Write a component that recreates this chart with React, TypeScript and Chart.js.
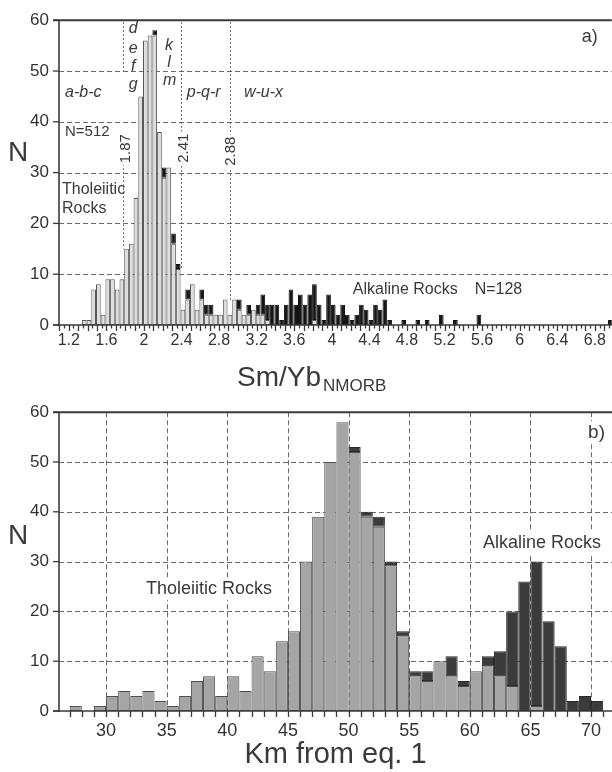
import React, { useEffect, useRef } from 'react';
import { Chart, registerables } from 'chart.js';

Chart.register(...registerables);

const FONT = '"Liberation Sans", Arial, Helvetica, sans-serif';
const TEXT = '#3a3a3a';
const AXIS = '#3a3a3a';
const GRID = '#6a6a6a';

// ---------------- Panel a : Sm/Yb NMORB histogram (bins of 0.05) ----------------
const smybFirstBinCenter = 1.365;
const smybBinWidth = 0.05;
const smybTholeiitic = [
  1, 1, 7, 8, 2, 9, 9, 7, 9, 15,
  16, 25, 45, 56, 57, 57, 38, 29, 31, 16,
  11, 3, 5, 8, 3, 5, 2, 2, 2, 2,
  5, 2, 5, 3, 2, 2, 3, 2, 2, 1,
  0, 0, 0, 0, 0, 0, 0, 0, 0, 1,
  0, 0, 0, 0, 0, 0, 0, 0, 0, 0,
  0, 0, 0, 0, 0, 0, 0, 0, 0, 0,
  0, 0, 0, 0, 0, 0, 0, 0, 0, 0,
  0, 0, 0, 0, 0, 0, 0, 0, 0, 0,
  0, 0, 0, 0, 0, 0, 0, 0, 0, 0,
  0, 0, 0, 0, 0, 0, 0, 0, 0, 0,
  0, 0, 0,
];
const smybAlkaline = [
  0, 0, 0, 0, 0, 0, 0, 0, 0, 0,
  0, 0, 0, 0, 0, 1, 0, 2, 0, 2,
  1, 0, 2, 0, 0, 2, 2, 2, 0, 0,
  0, 0, 0, 2, 0, 2, 0, 2, 4, 3,
  4, 4, 1, 4, 7, 4, 6, 4, 6, 7,
  4, 1, 6, 4, 2, 4, 2, 1, 2, 4,
  3, 1, 4, 3, 5, 1, 0, 0, 1, 0,
  0, 1, 0, 1, 0, 0, 2, 0, 0, 1,
  0, 0, 0, 0, 2, 0, 0, 0, 0, 0,
  0, 0, 0, 0, 0, 0, 0, 0, 0, 0,
  0, 0, 0, 0, 0, 0, 0, 0, 0, 0,
  0, 0, 1,
];
const smybBins = smybTholeiitic.map((_, i) => Math.round((smybFirstBinCenter + i * smybBinWidth) * 1000) / 1000);
const smybTickLabels = [1.2, 1.6, 2, 2.4, 2.8, 3.2, 3.6, 4, 4.4, 4.8, 5.2, 5.6, 6, 6.4, 6.8];
const smybRange = { min: 1.096, max: 6.98 };
const smybDivisions = [
  { label: '1.87', at: 1.78, labelAt: 1.81, labelY: 34.7, spans: [[59.6, 50], [32.4, 15]] },
  { label: '2.41', at: 2.39, labelAt: 2.42, labelY: 34.8, spans: [[59.6, 11]] },
  { label: '2.88', at: 2.915, labelAt: 2.926, labelY: 34.2, spans: [[59.6, 5]] },
];
const smybLabels = [
  { text: 'a-b-c', x: 1.16, y: 45.7, size: 16, italic: true, align: 'left' },
  { text: 'N=512', x: 1.16, y: 38.0, size: 15, align: 'left' },
  { text: 'd', x: 1.885, y: 58.3, size: 16, italic: true, align: 'center' },
  { text: 'e', x: 1.885, y: 54.5, size: 16, italic: true, align: 'center' },
  { text: 'f', x: 1.885, y: 50.9, size: 16, italic: true, align: 'center' },
  { text: 'g', x: 1.885, y: 47.3, size: 16, italic: true, align: 'center' },
  { text: 'k', x: 2.268, y: 55.0, size: 16, italic: true, align: 'center' },
  { text: 'l', x: 2.268, y: 51.6, size: 16, italic: true, align: 'center' },
  { text: 'm', x: 2.275, y: 48.1, size: 16, italic: true, align: 'center' },
  { text: 'p-q-r', x: 2.457, y: 45.7, size: 16, italic: true, align: 'left' },
  { text: 'w-u-x', x: 3.064, y: 45.7, size: 16, italic: true, align: 'left' },
  { text: 'Tholeiitic', x: 1.128, y: 26.6, size: 16, align: 'left' },
  { text: 'Rocks', x: 1.128, y: 22.9, size: 16, align: 'left' },
  { text: 'Alkaline Rocks', x: 4.223, y: 6.95, size: 16, align: 'left' },
  { text: 'N=128', x: 5.52, y: 6.95, size: 16, align: 'left' },
  { text: 'a)', x: 6.83, y: 56.6, size: 18, align: 'right' },
];

// ---------------- Panel b : Km from eq. 1 histogram (bins of 1) ----------------
const kmFirstBinCenter = 27.5;
const kmTholeiitic = [
  1, 0, 1, 3, 4, 3, 4, 2, 1, 3,
  6, 7, 3, 7, 4, 11, 8, 14, 16, 30,
  39, 50, 58, 52, 39, 37, 29, 15, 7, 6,
  10, 7, 5, 8, 9, 7, 5, 0, 1, 0,
  0, 0, 0, 0,
];
const kmAlkaline = [
  0, 0, 0, 0, 0, 0, 0, 0, 0, 0,
  0, 0, 0, 0, 0, 0, 0, 0, 0, 0,
  0, 0, 0, 1, 1, 2, 1, 1, 1, 2,
  0, 4, 1, 0, 2, 5, 15, 26, 29, 18,
  13, 2, 3, 2,
];
const kmBins = kmTholeiitic.map((_, i) => kmFirstBinCenter + i);
const kmTickLabels = [30, 35, 40, 45, 50, 55, 60, 65, 70];
const kmRange = { min: 26.12, max: 71.73 };
const kmLabels = [
  { text: 'b)', x: 71.15, y: 55.9, size: 19, align: 'right', bg: true },
  { text: 'Alkaline Rocks', x: 61.09, y: 33.8, size: 18, align: 'left', bg: true },
  { text: 'Tholeiitic Rocks', x: 33.3, y: 24.5, size: 18, align: 'left', bg: true },
];

const yTicks = [0, 10, 20, 30, 40, 50, 60];
const yGrid = [10, 20, 30, 40, 50];

function line(ctx: CanvasRenderingContext2D, x1: number, y1: number, x2: number, y2: number) {
  ctx.beginPath();
  ctx.moveTo(x1, y1);
  ctx.lineTo(x2, y2);
  ctx.stroke();
}

function drawLabel(chart: any, l: any) {
  const ctx: CanvasRenderingContext2D = chart.ctx;
  const px = chart.scales.x.getPixelForValue(l.x);
  const py = chart.scales.y.getPixelForValue(l.y);
  ctx.save();
  ctx.font = `${l.italic ? 'italic ' : ''}${l.size}px ${FONT}`;
  ctx.textBaseline = 'middle';
  ctx.textAlign = (l.align || 'left') as CanvasTextAlign;
  ctx.translate(px, py);
  if (l.rotate) ctx.rotate(-Math.PI / 2);
  if (l.bg) {
    const w = ctx.measureText(l.text).width;
    const x0 = l.align === 'center' ? -w / 2 : l.align === 'right' ? -w : 0;
    ctx.fillStyle = '#ffffff';
    ctx.fillRect(x0 - 2, -l.size * 0.6, w + 4, l.size * 1.2);
  }
  ctx.fillStyle = TEXT;
  ctx.fillText(l.text, 0, 0);
  ctx.restore();
}

function drawGrid(chart: any, vertical: number[]) {
  const ctx: CanvasRenderingContext2D = chart.ctx;
  const { left, right, top, bottom } = chart.chartArea;
  const xs = chart.scales.x;
  const ys = chart.scales.y;
  ctx.save();
  ctx.strokeStyle = GRID;
  ctx.lineWidth = 1;
  ctx.setLineDash([5, 3]);
  for (const v of yGrid) {
    const y = Math.round(ys.getPixelForValue(v)) + 0.5;
    line(ctx, left, y, right, y);
  }
  for (const v of vertical) {
    const x = Math.round(xs.getPixelForValue(v)) + 0.5;
    line(ctx, x, top, x, bottom);
  }
  ctx.restore();
}

function drawFrame(chart: any, xTicks: { v: number; len: number }[]) {
  const ctx: CanvasRenderingContext2D = chart.ctx;
  const { left, right, top, bottom } = chart.chartArea;
  const xs = chart.scales.x;
  const ys = chart.scales.y;
  ctx.save();
  ctx.strokeStyle = AXIS;
  ctx.setLineDash([]);
  ctx.lineWidth = 2;
  line(ctx, left - 6, top, right, top);
  ctx.lineWidth = 1.6;
  line(ctx, left, top, left, bottom + 1);
  line(ctx, left - 6, bottom, right, bottom);
  ctx.lineWidth = 1.3;
  for (const v of yTicks) {
    const y = ys.getPixelForValue(v);
    line(ctx, left - 6, y, left, y);
  }
  for (const t of xTicks) {
    const x = Math.round(xs.getPixelForValue(t.v)) + 0.5;
    line(ctx, x, bottom, x, bottom + t.len);
  }
  ctx.restore();
}

function drawYTitle(chart: any, yValue: number) {
  const ctx: CanvasRenderingContext2D = chart.ctx;
  const { left } = chart.chartArea;
  ctx.save();
  ctx.font = `28px ${FONT}`;
  ctx.fillStyle = TEXT;
  ctx.textAlign = 'center';
  ctx.textBaseline = 'middle';
  ctx.fillText('N', left - 41, chart.scales.y.getPixelForValue(yValue));
  ctx.restore();
}

function makeConfig(p: any) {
  return {
    type: 'bar',
    data: {
      datasets: [
        {
          label: 'Tholeiitic Rocks',
          data: p.bins.map((x: number, i: number) => ({ x, y: p.thol[i] })),
          backgroundColor: p.tholFill,
          borderColor: p.tholBorder,
          borderWidth: 1,
          borderSkipped: false,
          inflateAmount: 0,
          barPercentage: 1,
          categoryPercentage: 1,
        },
        {
          label: 'Alkaline Rocks',
          data: p.bins.map((x: number, i: number) => ({ x, y: p.alk[i] })),
          backgroundColor: p.alkFill,
          borderColor: p.alkBorder,
          borderWidth: 1,
          borderSkipped: false,
          inflateAmount: 0,
          barPercentage: 1,
          categoryPercentage: 1,
        },
      ],
    },
    options: {
      responsive: false,
      animation: false,
      devicePixelRatio: 1,
      layout: { padding: { top: p.padTop, right: 0, bottom: 0, left: 0 } },
      plugins: { legend: { display: false }, tooltip: { enabled: false }, title: { display: false } },
      scales: {
        x: {
          type: 'linear',
          min: p.range.min,
          max: p.range.max,
          stacked: true,
          offset: false,
          grid: { display: false, drawTicks: false },
          border: { display: false },
          afterBuildTicks: (s: any) => {
            s.ticks = p.ticks.map((v: number) => ({ value: v }));
          },
          afterFit: (s: any) => {
            s.height = p.xAxisHeight;
          },
          ticks: {
            autoSkip: false,
            maxRotation: 0,
            minRotation: 0,
            padding: p.xPad,
            color: '#333',
            font: { size: p.xFont, family: FONT },
            callback: (v: number) => String(v),
          },
        },
        y: {
          min: 0,
          max: 60,
          stacked: true,
          grid: { display: false, drawTicks: false },
          border: { display: false },
          afterFit: (s: any) => {
            s.width = 59;
          },
          ticks: {
            stepSize: 10,
            padding: 10,
            color: '#333',
            font: { size: 17, family: FONT },
          },
        },
      },
    },
    plugins: [p.plugin],
  };
}

const smybXTicks = (() => {
  const out: { v: number; len: number }[] = [];
  for (let k = 22; k * 0.05 <= smybRange.max; k++) out.push({ v: k * 0.05, len: k % 2 === 0 ? 6 : 3.5 });
  return out;
})();
const kmXTicks = (() => {
  const out: { v: number; len: number }[] = [];
  for (let k = 27; k <= 71; k++) out.push({ v: k, len: 6 });
  return out;
})();

const pluginA = {
  id: 'panelA',
  beforeDatasetsDraw(chart: any) {
    drawGrid(chart, []);
  },
  afterDatasetsDraw(chart: any) {
    const ctx: CanvasRenderingContext2D = chart.ctx;
    const xs = chart.scales.x;
    const ys = chart.scales.y;
    ctx.save();
    ctx.strokeStyle = '#444';
    ctx.lineWidth = 1;
    ctx.setLineDash([1.5, 2.5]);
    for (const d of smybDivisions) {
      const px = Math.round(xs.getPixelForValue(d.at)) + 0.5;
      for (const [a, b] of d.spans) line(ctx, px, ys.getPixelForValue(a), px, ys.getPixelForValue(b));
    }
    ctx.restore();
    for (const d of smybDivisions) {
      drawLabel(chart, { text: d.label, x: d.labelAt, y: d.labelY, size: 15, align: 'center', rotate: true, bg: true });
    }
    for (const l of smybLabels) drawLabel(chart, l);
    drawFrame(chart, smybXTicks);
    drawYTitle(chart, 33.8);
    const { left, bottom } = chart.chartArea;
    ctx.save();
    ctx.fillStyle = TEXT;
    ctx.textBaseline = 'alphabetic';
    ctx.textAlign = 'left';
    ctx.font = `28px ${FONT}`;
    const main = 'Sm/Yb';
    const x0 = left + 178;
    ctx.fillText(main, x0, bottom + 61);
    const w = ctx.measureText(main).width;
    ctx.font = `17px ${FONT}`;
    ctx.fillText('NMORB', x0 + w + 2, bottom + 66);
    ctx.restore();
  },
};

const pluginB = {
  id: 'panelB',
  beforeDatasetsDraw(chart: any) {
    drawGrid(chart, kmTickLabels);
  },
  afterDatasetsDraw(chart: any) {
    const ctx: CanvasRenderingContext2D = chart.ctx;
    for (const l of kmLabels) drawLabel(chart, l);
    drawFrame(chart, kmXTicks);
    drawYTitle(chart, 35.1);
    const { left, right, bottom } = chart.chartArea;
    ctx.save();
    ctx.fillStyle = TEXT;
    ctx.textBaseline = 'alphabetic';
    ctx.textAlign = 'center';
    ctx.font = `29px ${FONT}`;
    ctx.fillText('Km from eq. 1', (left + right) / 2, bottom + 52);
    ctx.restore();
  },
};

export default function App() {
  const refA = useRef<HTMLCanvasElement>(null);
  const refB = useRef<HTMLCanvasElement>(null);
  useEffect(() => {
    document.body.style.margin = '0';
    const a = new Chart(
      refA.current as HTMLCanvasElement,
      makeConfig({
        bins: smybBins,
        thol: smybTholeiitic,
        alk: smybAlkaline,
        tholFill: '#dedede',
        tholBorder: '#575757',
        alkFill: '#151515',
        alkBorder: '#111111',
        padTop: 14,
        range: smybRange,
        ticks: smybTickLabels,
        xAxisHeight: 67,
        xPad: 6,
        xFont: 16,
        plugin: pluginA,
      }) as any
    );
    const b = new Chart(
      refB.current as HTMLCanvasElement,
      makeConfig({
        bins: kmBins,
        thol: kmTholeiitic,
        alk: kmAlkaline,
        tholFill: '#a5a5a5',
        tholBorder: '#4f4f4f',
        alkFill: '#3b3b3b',
        alkBorder: '#2a2a2a',
        padTop: 10,
        range: kmRange,
        ticks: kmTickLabels,
        xAxisHeight: 61,
        xPad: 9,
        xFont: 18,
        plugin: pluginB,
      }) as any
    );
    return () => {
      a.destroy();
      b.destroy();
    };
  }, []);
  return (
    <div style={{ position: 'absolute', left: 0, top: 0, width: 612, height: 772, background: '#ffffff', overflow: 'hidden' }}>
      <canvas ref={refA} width={612} height={392} style={{ position: 'absolute', left: 0, top: 0, width: 612, height: 392 }} />
      <canvas ref={refB} width={612} height={380} style={{ position: 'absolute', left: 0, top: 392, width: 612, height: 380 }} />
    </div>
  );
}
